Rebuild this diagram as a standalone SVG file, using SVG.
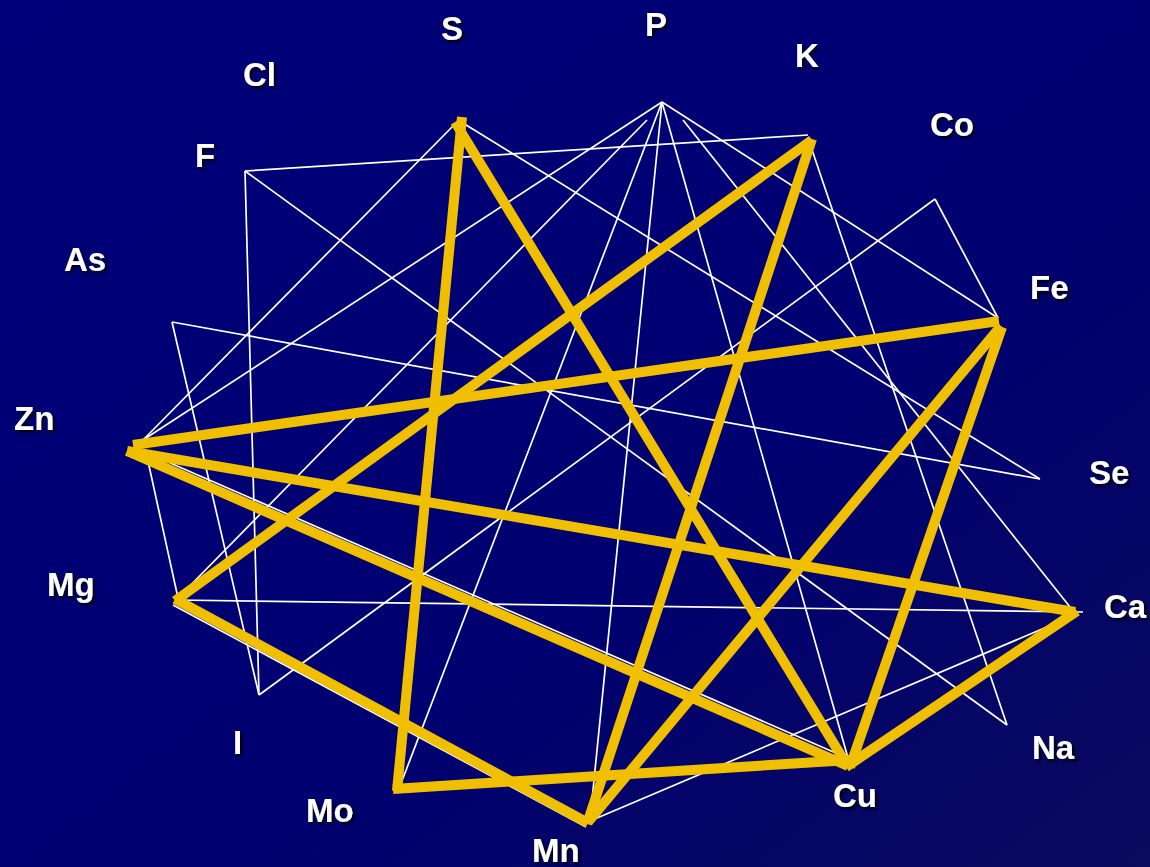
<svg xmlns="http://www.w3.org/2000/svg" width="1150" height="867" viewBox="0 0 1150 867">
<defs>
<linearGradient id="bg" x1="0" y1="0" x2="1" y2="1">
<stop offset="0" stop-color="#00007a"/>
<stop offset="0.6" stop-color="#000070"/>
<stop offset="1" stop-color="#0a0a5e"/>
</linearGradient>
<filter id="sh" x="-20%" y="-20%" width="150%" height="150%">
<feDropShadow dx="2.5" dy="2.5" stdDeviation="0.8" flood-color="#000010" flood-opacity="0.9"/>
</filter>
</defs>
<style>
.w{stroke:#ffffff;stroke-width:1.7;fill:none}
.y{stroke:#f0c000;stroke-width:10;fill:none;stroke-linecap:butt}
.lbl{font-family:"Liberation Sans",Arial,sans-serif;font-weight:bold;font-size:33px;fill:#ffffff;filter:url(#sh)}
</style>
<rect width="1150" height="867" fill="url(#bg)"/>
<g id="connectors">
<g id="thin">
<line class="w" x1="662" y1="102" x2="143" y2="440"/>
<line class="w" x1="662" y1="102" x2="400" y2="786"/>
<line class="w" x1="662" y1="102" x2="590" y2="820"/>
<line class="w" x1="662" y1="102" x2="848" y2="758"/>
<line class="w" x1="662" y1="102" x2="998" y2="318"/>
<line class="w" x1="647" y1="120" x2="178" y2="598"/>
<line class="w" x1="683" y1="120" x2="1070" y2="607"/>
<line class="w" x1="245" y1="171" x2="808" y2="135"/>
<line class="w" x1="245" y1="171" x2="259" y2="695"/>
<line class="w" x1="245" y1="171" x2="1007" y2="725"/>
<line class="w" x1="455" y1="124" x2="143" y2="440"/>
<line class="w" x1="458" y1="120" x2="1040" y2="479"/>
<line class="w" x1="808" y1="138" x2="1007" y2="725"/>
<line class="w" x1="935" y1="199" x2="259" y2="695"/>
<line class="w" x1="935" y1="199" x2="998" y2="318"/>
<line class="w" x1="172" y1="322" x2="1040" y2="479"/>
<line class="w" x1="172" y1="322" x2="259" y2="695"/>
<line class="w" x1="146" y1="452" x2="178" y2="598"/>
<line class="w" x1="175" y1="600" x2="1083" y2="612"/>
<line class="w" x1="590" y1="821" x2="1075" y2="615"/>
<line class="w" x1="173" y1="605" x2="586" y2="827"/>
<line class="w" x1="145" y1="452" x2="838" y2="754"/>
</g>
<g id="thick">
<line class="y" x1="462" y1="117" x2="397" y2="791"/>
<line class="y" x1="455" y1="122" x2="848" y2="767"/>
<line class="y" x1="812" y1="140" x2="175" y2="601"/>
<line class="y" x1="812" y1="139" x2="587" y2="824"/>
<line class="y" x1="999" y1="321" x2="133" y2="445"/>
<line class="y" x1="1001" y1="326" x2="588" y2="822"/>
<line class="y" x1="1002" y1="327" x2="850" y2="767"/>
<line class="y" x1="127" y1="451" x2="1075" y2="612"/>
<line class="y" x1="127" y1="451" x2="848" y2="766"/>
<line class="y" x1="175" y1="599" x2="588" y2="823"/>
<line class="y" x1="393" y1="789" x2="850" y2="760"/>
<line class="y" x1="846" y1="767" x2="1077" y2="611"/>
</g>
</g>
<g id="node-S"><text class="lbl" x="441" y="40">S</text></g>
<g id="node-P"><text class="lbl" x="645" y="36">P</text></g>
<g id="node-K"><text class="lbl" x="795" y="67">K</text></g>
<g id="node-Cl"><text class="lbl" x="243" y="86">Cl</text></g>
<g id="node-Co"><text class="lbl" x="930" y="136">Co</text></g>
<g id="node-F"><text class="lbl" x="195" y="167">F</text></g>
<g id="node-Fe"><text class="lbl" x="1030" y="299">Fe</text></g>
<g id="node-As"><text class="lbl" x="64" y="271">As</text></g>
<g id="node-Zn"><text class="lbl" x="14" y="430">Zn</text></g>
<g id="node-Se"><text class="lbl" x="1089" y="484">Se</text></g>
<g id="node-Mg"><text class="lbl" x="47" y="596">Mg</text></g>
<g id="node-Ca"><text class="lbl" x="1104" y="618">Ca</text></g>
<g id="node-I"><text class="lbl" x="233" y="754">I</text></g>
<g id="node-Na"><text class="lbl" x="1032" y="759">Na</text></g>
<g id="node-Mo"><text class="lbl" x="306" y="822">Mo</text></g>
<g id="node-Cu"><text class="lbl" x="833" y="807">Cu</text></g>
<g id="node-Mn"><text class="lbl" x="532" y="862">Mn</text></g>
</svg>
